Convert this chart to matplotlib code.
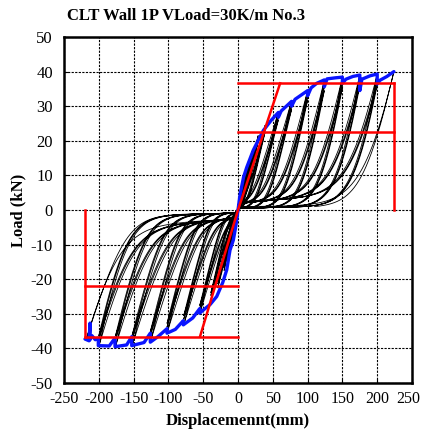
import numpy as np
import matplotlib
matplotlib.use("Agg")
import matplotlib.pyplot as plt
from matplotlib.transforms import ScaledTranslation

# cyclic test: amplitudes (mm) and first-cycle peak loads (kN), 3 cycles per amplitude
POS_AMP = [10, 15, 20, 29, 39, 58, 77, 100, 124, 150, 175, 200]
POS_PEAK = [10.5, 14.0, 17.0, 21.5, 24.5, 28.3, 31.6, 34.5, 37.5, 38.4, 39.0, 39.3]
POS_SLIP = [1.5, 1.6, 1.8, 2.0, 2.3, 2.6, 2.9, 3.2, 3.5, 3.8, 4.1, 4.4]
POS_K = [1.0, 0.9, 0.85, 0.75, 0.7, 0.65, 0.7, 0.8, 0.9, 1.0, 1.1, 1.2]      # reload stiffness, kN/mm
NEG_AMP = [-10, -15, -20, -29, -39, -55, -78, -102, -126, -152, -176, -200]
NEG_PEAK = [-10.0, -14.0, -17.5, -22.5, -26.0, -30.0, -33.2, -35.6, -38.2, -39.2, -39.5, -39.5]
NEG_SLIP = [-1.5, -1.7, -1.9, -2.2, -2.5, -2.9, -3.3, -3.7, -4.1, -4.5, -4.9, -5.2]
NEG_K = [1.0, 0.9, 0.85, 0.75, 0.7, 0.65, 0.65, 0.65, 0.67, 0.67, 0.75, 0.85]
REPEAT_RATIO = [1.0, 0.95, 0.92]

# last excursions (amplitude, peak)
FINAL_NEG = (-218, -37.3)
FINAL_POS = (224, 40.0)

# skeleton curve (blue), with the drops of the repeated cycles
ENV_POS_X = [0, 3, 8, 12.5, 22, 30, 36.5, 48, 58, 58, 62, 77, 77, 82, 100, 100, 105, 113,
             124, 124, 128, 140, 150, 150, 155, 165, 175, 175, 178, 190, 200, 200, 204, 214, 224]
ENV_POS_Y = [0, 4.5, 9.5, 12.3, 17.3, 20.5, 23.0, 26.0, 28.2, 26.8, 28.6, 31.4, 30.0, 32.0, 34.5, 33.0, 35.3, 36.6,
             37.6, 35.6, 37.9, 38.2, 38.4, 36.6, 37.8, 38.6, 39.0, 34.5, 37.8, 38.8, 39.3, 36.4, 37.5, 38.6, 40.0]
ENV_NEG_X = [0, -3, -6.7, -11.5, -16.2, -22, -30.6, -40, -49.8, -55, -55, -65, -78.6, -78.6, -90, -102, -102,
             -115, -126, -126, -135, -152.7, -152.7, -160, -176.7, -176.7, -185, -200.7, -200.7, -205, -210,
             -212.6, -212.6, -214, -219.8]
ENV_NEG_Y = [0, -4.5, -8.7, -11.6, -17.3, -21.0, -25.0, -27.3, -28.9, -29.8, -28.5, -31.2, -33.2, -32.0, -34.5, -35.6, -34.3,
             -36.6, -38.2, -35.6, -38.3, -39.2, -36.6, -39.0, -39.5, -37.0, -39.3, -39.2, -37.0, -37.5, -36.3,
             -37.5, -32.7, -37.8, -37.3]

# bilinear idealisation (red)
RED_POS = {"knee": (60.5, 36.6), "y_max": 36.6, "y_mid": 22.6, "d_u": 224}
RED_NEG = {"knee": (-54.6, -36.6), "y_max": -36.6, "y_mid": -22.0, "d_u": -220}

TITLE = "CLT Wall 1P VLoad=30K/m No.3"


def half_loop(d, P, slip, unl, k, ku_ratio=1.25, r_frac=0.1, tail_end=0.0):
    """One excursion of a pinched loop in positive units (mirror it for negative)."""
    # loading: slip plateau, rounded knee, then near-linear branch to the peak
    p0 = 0.4 * slip + 0.5
    x = np.linspace(0, d, 300)
    base = p0 * (1 - np.exp(-x / 1.8)) + (slip - p0) * x / d
    xk = d - (P - slip) / k
    r = r_frac * d + 1.5
    sp = r * np.logaddexp(0, (x - xk) / r)
    y_load = base + (P - base[-1]) * sp / sp[-1]
    # unloading: stiffer branch back down to a low plateau
    xu = np.linspace(d, tail_end, 300)
    ubase = unl * (1 - np.exp(-xu / 2.0)) * (0.6 + 0.4 * xu / d)
    ku = k * ku_ratio
    xku = d - (P - unl) / ku
    ru = 0.8 * r
    spu = ru * np.logaddexp(0, (xu - xku) / ru)
    y_unl = ubase + (P - ubase[0]) * spu / spu[0]
    return np.concatenate([x, xu]), np.concatenate([y_load, y_unl])


plt.rcParams["font.family"] = ["Liberation Serif", "DejaVu Serif"]
plt.rcParams["axes.unicode_minus"] = False

fig = plt.figure(figsize=(4.22, 4.32), dpi=100)
ax = fig.add_axes([64 / 422, 49 / 432, 348 / 422, 346 / 432])

xs, ys = [], []
for i in range(len(POS_AMP)):
    for rr in REPEAT_RATIO:
        hx, hy = half_loop(POS_AMP[i], POS_PEAK[i] * rr, POS_SLIP[i],
                           0.6 + 0.002 * POS_AMP[i], POS_K[i])
        xs.append(hx); ys.append(hy)
        hx, hy = half_loop(-NEG_AMP[i], -NEG_PEAK[i] * rr, -NEG_SLIP[i],
                           1.0 + 0.003 * -NEG_AMP[i], NEG_K[i])
        xs.append(-hx); ys.append(-hy)
hx, hy = half_loop(-FINAL_NEG[0], -FINAL_NEG[1], 5.0, 1.5, 0.9, ku_ratio=0.75)
xs.append(-hx); ys.append(-hy)
hx, hy = half_loop(FINAL_POS[0], FINAL_POS[1], 1.2, 0.8, 1.3, ku_ratio=0.8, tail_end=110)
xs.append(hx); ys.append(hy)
ax.plot(np.concatenate(xs), np.concatenate(ys), color="black", lw=0.6, zorder=2)

ax.plot(ENV_POS_X, ENV_POS_Y, color="#0a14ff", lw=2.4, zorder=3, solid_capstyle="round")
ax.plot(ENV_NEG_X, ENV_NEG_Y, color="#0a14ff", lw=2.4, zorder=3, solid_capstyle="round")

red = "#ff0000"
for rb in (RED_POS, RED_NEG):
    du = rb["d_u"]
    ax.plot([0, du], [rb["y_max"], rb["y_max"]], color=red, lw=1.8, zorder=4)
    ax.plot([0, du], [rb["y_mid"], rb["y_mid"]], color=red, lw=1.8, zorder=4)
    ax.plot([du, du], [rb["y_max"], 0], color=red, lw=1.8, zorder=4)
ax.plot([RED_NEG["knee"][0], 0, RED_POS["knee"][0]],
        [RED_NEG["knee"][1], 0, RED_POS["knee"][1]], color=red, lw=1.8, zorder=4)

ax.set_xlim(-250, 250)
ax.set_ylim(-50, 50)
ax.set_xticks(np.arange(-250, 251, 50))
ax.set_yticks(np.arange(-50, 51, 10))
ax.grid(True, color="black", lw=0.8, linestyle=(0, (2.0, 1.2)))
ax.set_axisbelow(True)
ax.tick_params(direction="in", length=3, width=0.8, labelsize=11.5, pad=6)
ax.tick_params(axis="y", labelsize=12, pad=8)
for s in ax.spines.values():
    s.set_linewidth(1.8)

# last x label sits right at the figure edge; nudge it inward a little
last = ax.get_xticklabels()[-1]
last.set_transform(last.get_transform() + ScaledTranslation(-3 / 72, 0, fig.dpi_scale_trans))

ax.set_xlabel("Displacemennt(mm)", fontsize=12, fontweight="bold", labelpad=4)
ax.set_ylabel("Load (kN)", fontsize=12, fontweight="bold", labelpad=3)
fig.text(67 / 422, 1 - 16 / 432, TITLE, fontsize=12, fontweight="bold", va="center", ha="left")

fig.savefig("out.png", dpi=100)
